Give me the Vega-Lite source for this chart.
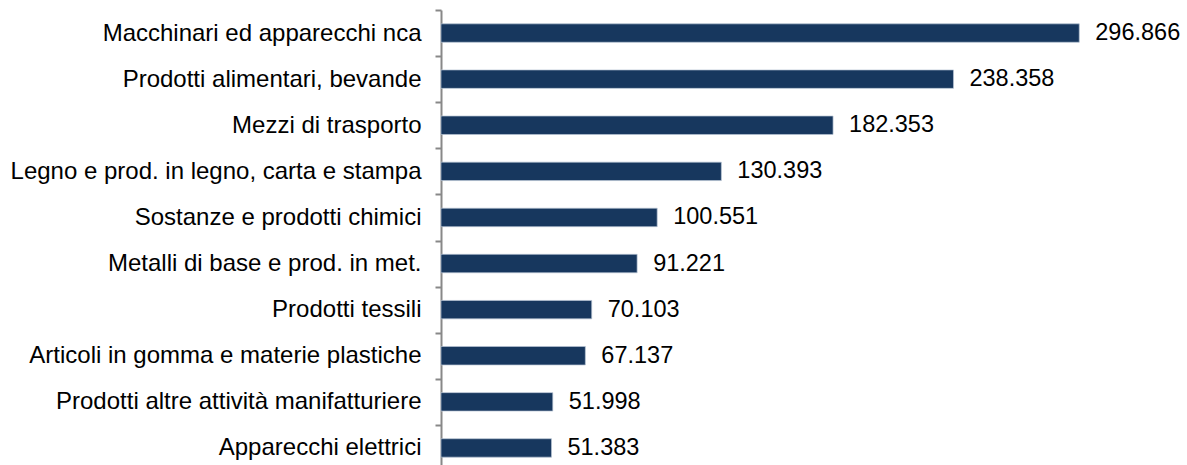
{
  "$schema": "https://vega.github.io/schema/vega-lite/v6.json",
  "width": 731,
  "height": 461,
  "autosize": "none",
  "padding": {"left": 441, "top": 10, "right": 15, "bottom": 0},
  "background": "white",
  "config": {"view": {"stroke": null}},
  "data": {
    "values": [
      {"cat": "Macchinari ed apparecchi nca", "v": 296.866},
      {"cat": "Prodotti alimentari, bevande\u00a0", "v": 238.358},
      {"cat": "Mezzi di trasporto", "v": 182.353},
      {"cat": "Legno e prod. in legno, carta e stampa", "v": 130.393},
      {"cat": "Sostanze e prodotti chimici\u00a0", "v": 100.551},
      {"cat": "Metalli di base e prod. in met.", "v": 91.221},
      {"cat": "Prodotti tessili", "v": 70.103},
      {"cat": "Articoli in gomma e materie plastiche", "v": 67.137},
      {"cat": "Prodotti altre attività manifatturiere", "v": 51.998},
      {"cat": "Apparecchi elettrici", "v": 51.383}
    ]
  },
  "encoding": {
    "y": {
      "field": "cat",
      "type": "nominal",
      "sort": null,
      "scale": {"paddingInner": 0, "paddingOuter": 0},
      "axis": {
        "title": null,
        "grid": false,
        "domainColor": "#888888",
        "domainWidth": 2,
        "tickColor": "#888888",
        "tickWidth": 2,
        "tickSize": 6,
        "tickBand": "extent",
        "labelFont": "Liberation Sans",
        "labelFontSize": 24,
        "labelColor": "black",
        "labelPadding": 14,
        "labelLimit": 500
      }
    },
    "x": {
      "field": "v",
      "type": "quantitative",
      "scale": {"domain": [0, 340]},
      "axis": null
    }
  },
  "layer": [
    {
      "mark": {"type": "bar", "height": {"band": 0.4}, "color": "#17375E", "stroke": "#b8c4d4", "strokeWidth": 0.7}
    },
    {
      "mark": {"type": "text", "align": "left", "baseline": "middle", "dx": 16, "font": "Liberation Sans", "fontSize": 23.5, "color": "black"},
      "encoding": {"text": {"field": "v", "type": "quantitative", "format": ".3f"}}
    }
  ]
}
